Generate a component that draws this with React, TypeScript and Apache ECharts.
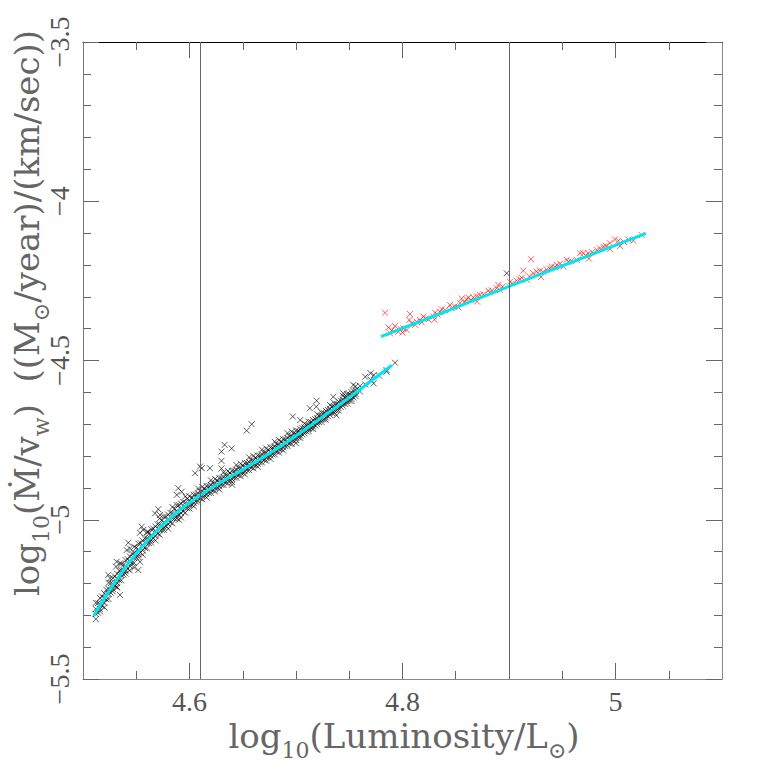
import React, { useEffect, useRef } from "react";
import * as echarts from "echarts";

const xMajorTicks = [4.6, 4.8, 5.0];
const xMinorTicks = [4.55, 4.65, 4.7, 4.75, 4.85, 4.9, 4.95, 5.05];
const yMajorTicks = [-5.5, -5.0, -4.5, -4.0, -3.5];
const yMinorTicks = [-5.4, -5.3, -5.2, -5.1, -4.9, -4.8, -4.7, -4.6, -4.4, -4.3, -4.2, -4.1, -3.9, -3.8, -3.7, -3.6];
const verticalLines = [4.61, 4.9];

const blackPoints: [number, number][] = [
  [4.512, -5.261], [4.512, -5.28], [4.512, -5.296], [4.512, -5.312],
  [4.516, -5.246], [4.516, -5.264], [4.516, -5.28], [4.516, -5.288],
  [4.52, -5.231], [4.52, -5.247], [4.52, -5.261], [4.52, -5.275],
  [4.524, -5.198], [4.524, -5.217], [4.524, -5.233], [4.524, -5.249],
  [4.528, -5.183], [4.528, -5.201], [4.528, -5.217], [4.528, -5.225],
  [4.532, -5.169], [4.532, -5.185], [4.532, -5.199], [4.532, -5.213],
  [4.536, -5.139], [4.536, -5.158], [4.536, -5.174], [4.536, -5.19],
  [4.54, -5.127], [4.54, -5.145], [4.54, -5.161], [4.54, -5.169],
  [4.544, -5.115], [4.544, -5.131], [4.544, -5.145], [4.544, -5.159],
  [4.548, -5.085], [4.548, -5.104], [4.548, -5.12], [4.548, -5.136],
  [4.552, -5.075], [4.552, -5.093], [4.552, -5.109], [4.552, -5.117],
  [4.556, -5.066], [4.556, -5.082], [4.556, -5.096], [4.556, -5.11],
  [4.56, -5.039], [4.56, -5.058], [4.56, -5.074], [4.56, -5.09],
  [4.564, -5.03], [4.564, -5.048], [4.564, -5.064], [4.564, -5.072],
  [4.568, -5.021], [4.568, -5.037], [4.568, -5.051], [4.568, -5.065],
  [4.572, -4.996], [4.572, -5.015], [4.572, -5.031], [4.572, -5.047],
  [4.576, -4.99], [4.576, -5.008], [4.576, -5.024], [4.576, -5.032],
  [4.58, -4.984], [4.58, -5.0], [4.58, -5.014], [4.58, -5.028],
  [4.584, -4.96], [4.584, -4.979], [4.584, -4.995], [4.584, -5.011],
  [4.588, -4.954], [4.588, -4.972], [4.588, -4.988], [4.588, -4.996],
  [4.592, -4.949], [4.592, -4.965], [4.592, -4.979], [4.592, -4.993],
  [4.596, -4.927], [4.596, -4.946], [4.596, -4.962], [4.596, -4.978],
  [4.514, -5.262], [4.514, -5.292], [4.518, -5.241], [4.518, -5.271], [4.522, -5.22], [4.522, -5.25],
  [4.526, -5.199], [4.526, -5.229], [4.53, -5.178], [4.53, -5.208], [4.534, -5.16], [4.534, -5.19],
  [4.538, -5.142], [4.538, -5.172], [4.542, -5.124], [4.542, -5.154], [4.546, -5.106], [4.546, -5.136],
  [4.55, -5.088], [4.55, -5.118], [4.554, -5.073], [4.554, -5.103], [4.558, -5.058], [4.558, -5.088],
  [4.562, -5.043], [4.562, -5.073], [4.566, -5.028], [4.566, -5.058], [4.57, -5.014], [4.57, -5.044],
  [4.574, -5.002], [4.574, -5.032], [4.578, -4.99], [4.578, -5.02], [4.582, -4.978], [4.582, -5.008],
  [4.586, -4.966], [4.586, -4.996], [4.59, -4.954], [4.59, -4.984], [4.594, -4.944], [4.594, -4.974],
  [4.598, -4.934], [4.598, -4.964],
  [4.6, -4.926], [4.6, -4.94], [4.6, -4.954], [4.6, -4.965],
  [4.604, -4.922], [4.604, -4.935], [4.604, -4.948], [4.604, -4.958],
  [4.608, -4.902], [4.608, -4.917], [4.608, -4.931], [4.608, -4.942],
  [4.612, -4.897], [4.612, -4.911], [4.612, -4.925], [4.612, -4.936],
  [4.616, -4.894], [4.616, -4.907], [4.616, -4.92], [4.616, -4.93],
  [4.62, -4.876], [4.62, -4.891], [4.62, -4.905], [4.62, -4.916],
  [4.624, -4.872], [4.624, -4.886], [4.624, -4.9], [4.624, -4.911],
  [4.628, -4.869], [4.628, -4.882], [4.628, -4.895], [4.628, -4.905],
  [4.632, -4.851], [4.632, -4.866], [4.632, -4.88], [4.632, -4.891],
  [4.636, -4.847], [4.636, -4.861], [4.636, -4.875], [4.636, -4.886],
  [4.64, -4.846], [4.64, -4.859], [4.64, -4.872], [4.64, -4.882],
  [4.644, -4.828], [4.644, -4.843], [4.644, -4.857], [4.644, -4.868],
  [4.648, -4.824], [4.648, -4.838], [4.648, -4.852], [4.648, -4.863],
  [4.652, -4.822], [4.652, -4.835], [4.652, -4.848], [4.652, -4.858],
  [4.656, -4.804], [4.656, -4.819], [4.656, -4.833], [4.656, -4.844],
  [4.66, -4.8], [4.66, -4.814], [4.66, -4.828], [4.66, -4.839],
  [4.664, -4.798], [4.664, -4.811], [4.664, -4.824], [4.664, -4.834],
  [4.668, -4.78], [4.668, -4.795], [4.668, -4.809], [4.668, -4.82],
  [4.672, -4.776], [4.672, -4.79], [4.672, -4.804], [4.672, -4.815],
  [4.676, -4.773], [4.676, -4.786], [4.676, -4.799], [4.676, -4.809],
  [4.68, -4.755], [4.68, -4.77], [4.68, -4.784], [4.68, -4.795],
  [4.684, -4.75], [4.684, -4.764], [4.684, -4.778], [4.684, -4.789],
  [4.688, -4.747], [4.688, -4.76], [4.688, -4.773], [4.688, -4.783],
  [4.692, -4.728], [4.692, -4.743], [4.692, -4.757], [4.692, -4.768],
  [4.696, -4.723], [4.696, -4.737], [4.696, -4.751], [4.696, -4.762],
  [4.7, -4.72], [4.7, -4.731], [4.7, -4.742], [4.7, -4.75],
  [4.704, -4.715], [4.704, -4.725], [4.704, -4.736], [4.704, -4.743],
  [4.708, -4.698], [4.708, -4.71], [4.708, -4.722], [4.708, -4.729],
  [4.712, -4.692], [4.712, -4.703], [4.712, -4.714], [4.712, -4.722],
  [4.716, -4.687], [4.716, -4.697], [4.716, -4.708], [4.716, -4.715],
  [4.72, -4.669], [4.72, -4.681], [4.72, -4.693], [4.72, -4.7],
  [4.724, -4.663], [4.724, -4.674], [4.724, -4.685], [4.724, -4.693],
  [4.728, -4.658], [4.728, -4.668], [4.728, -4.679], [4.728, -4.686],
  [4.732, -4.64], [4.732, -4.652], [4.732, -4.664], [4.732, -4.671],
  [4.736, -4.634], [4.736, -4.645], [4.736, -4.656], [4.736, -4.664],
  [4.74, -4.629], [4.74, -4.639], [4.74, -4.65], [4.74, -4.657],
  [4.744, -4.611], [4.744, -4.623], [4.744, -4.635], [4.744, -4.642],
  [4.748, -4.605], [4.748, -4.616], [4.748, -4.627], [4.748, -4.635],
  [4.752, -4.599], [4.752, -4.609], [4.752, -4.62], [4.752, -4.627],
  [4.756, -4.581], [4.756, -4.593], [4.756, -4.605], [4.756, -4.612],
  [4.76, -4.58], [4.76, -4.597],
  [4.602, -4.931], [4.602, -4.953], [4.606, -4.921], [4.606, -4.943], [4.61, -4.911], [4.61, -4.933],
  [4.614, -4.902], [4.614, -4.924], [4.618, -4.894], [4.618, -4.916], [4.622, -4.886], [4.622, -4.908],
  [4.626, -4.877], [4.626, -4.899], [4.63, -4.869], [4.63, -4.891], [4.634, -4.861], [4.634, -4.883],
  [4.638, -4.853], [4.638, -4.875], [4.642, -4.846], [4.642, -4.868], [4.646, -4.838], [4.646, -4.86],
  [4.65, -4.83], [4.65, -4.852], [4.654, -4.822], [4.654, -4.844], [4.658, -4.814], [4.658, -4.836],
  [4.662, -4.806], [4.662, -4.828], [4.666, -4.798], [4.666, -4.82], [4.67, -4.79], [4.67, -4.812],
  [4.674, -4.781], [4.674, -4.803], [4.678, -4.773], [4.678, -4.795], [4.682, -4.764], [4.682, -4.786],
  [4.686, -4.755], [4.686, -4.777], [4.69, -4.747], [4.69, -4.769], [4.694, -4.738], [4.694, -4.76],
  [4.698, -4.729], [4.698, -4.751], [4.702, -4.721], [4.702, -4.741], [4.706, -4.712], [4.706, -4.732],
  [4.71, -4.703], [4.71, -4.723], [4.714, -4.693], [4.714, -4.713], [4.718, -4.684], [4.718, -4.704],
  [4.722, -4.674], [4.722, -4.694], [4.726, -4.665], [4.726, -4.685], [4.73, -4.655], [4.73, -4.675],
  [4.734, -4.645], [4.734, -4.665], [4.738, -4.636], [4.738, -4.656], [4.742, -4.626], [4.742, -4.646],
  [4.746, -4.616], [4.746, -4.636], [4.75, -4.606], [4.75, -4.626], [4.754, -4.596], [4.754, -4.616],
  [4.5238, -5.173], [4.5254, -5.184], [4.5316, -5.132], [4.5347, -5.137], [4.531, -5.147], [4.5425, -5.072],
  [4.5441, -5.09], [4.541, -5.095], [4.5535, -5.041], [4.5551, -5.022], [4.5566, -5.032], [4.5613, -5.038],
  [4.5676, -4.98], [4.5707, -4.967], [4.5723, -4.985], [4.588, -4.922], [4.5895, -4.901], [4.5927, -4.912],
  [4.6052, -4.854], [4.6099, -4.833], [4.6115, -4.838], [4.6192, -4.838], [4.63, -4.786], [4.63, -4.815],
  [4.63, -4.839], [4.633, -4.765], [4.6396, -4.776], [4.6537, -4.72], [4.6584, -4.7], [4.697, -4.676],
  [4.704, -4.687], [4.713, -4.65], [4.719, -4.645], [4.7194, -4.626], [4.735, -4.614], [4.7444, -4.603],
  [4.7538, -4.577], [4.5347, -5.236], [4.5316, -5.21], [4.5519, -5.158], [4.5535, -5.132],
  [4.548, -5.15], [4.59, -5.0], [4.64, -4.89], [4.7, -4.76], [4.738, -4.672],
  [4.765, -4.551], [4.765, -4.575], [4.77, -4.56], [4.77, -4.54], [4.773, -4.546], [4.773, -4.572],
  [4.778, -4.548], [4.785, -4.535], [4.785, -4.53], [4.793, -4.507], [4.8978, -4.226]
];

const redPoints: [number, number][] = [
  [4.7836, -4.35], [4.7867, -4.396], [4.793, -4.392], [4.7883, -4.415], [4.7961, -4.41], [4.8008, -4.399],
  [4.8039, -4.404], [4.807, -4.354], [4.8064, -4.373], [4.8086, -4.383], [4.8133, -4.378], [4.8164, -4.373],
  [4.8196, -4.362], [4.8242, -4.371], [4.8289, -4.362], [4.8305, -4.35], [4.8352, -4.347], [4.8368, -4.339],
  [4.8446, -4.326], [4.8462, -4.336], [4.8524, -4.333], [4.854, -4.32], [4.8556, -4.305], [4.8603, -4.308],
  [4.8618, -4.302], [4.8665, -4.302], [4.8697, -4.298], [4.8728, -4.294], [4.8806, -4.281], [4.8822, -4.287],
  [4.8884, -4.273], [4.89, -4.263], [4.8915, -4.279], [4.9009, -4.253], [4.9072, -4.249], [4.9103, -4.245],
  [4.9134, -4.218], [4.9166, -4.247], [4.9207, -4.182], [4.9228, -4.226], [4.926, -4.221], [4.9291, -4.218],
  [4.9354, -4.214], [4.9385, -4.211], [4.9401, -4.205], [4.9448, -4.2], [4.951, -4.205], [4.9542, -4.184],
  [4.9557, -4.19], [4.9636, -4.184], [4.9667, -4.163], [4.9698, -4.163], [4.9745, -4.163], [4.9823, -4.153],
  [4.9854, -4.148], [4.9886, -4.143], [4.9948, -4.132], [4.9995, -4.12], [5.0027, -4.124], [5.0042, -4.141],
  [5.012, -4.12], [5.0167, -4.124], [5.0246, -4.106],
  [4.79, -4.405], [4.798, -4.4], [4.812, -4.388], [4.818, -4.38], [4.822, -4.368], [4.833, -4.356],
  [4.84, -4.342], [4.849, -4.33], [4.858, -4.318], [4.864, -4.311], [4.876, -4.292], [4.884, -4.28],
  [4.894, -4.268], [4.903, -4.258], [4.912, -4.24], [4.919, -4.236], [4.932, -4.222], [4.943, -4.207],
  [4.948, -4.196], [4.958, -4.188], [4.972, -4.17], [4.978, -4.16], [4.991, -4.14], [5.008, -4.128],
  [4.8, -4.412], [4.83, -4.372], [4.87, -4.315], [4.93, -4.238], [4.975, -4.18], [4.995, -4.15]
];

const fitLow: [number, number][] = [
  [4.51, -5.302], [4.53, -5.196], [4.55, -5.106], [4.57, -5.032], [4.59, -4.972], [4.61, -4.923],
  [4.63, -4.881], [4.65, -4.842], [4.67, -4.802], [4.69, -4.759], [4.71, -4.713], [4.73, -4.665],
  [4.75, -4.616], [4.77, -4.566], [4.79, -4.515]
];

const fitHigh: [number, number][] = [
  [4.7798, -4.4253], [4.84, -4.347], [4.8994, -4.2683], [4.96, -4.19], [5.0286, -4.1007]
];

const FONT = "'Liberation Serif', 'DejaVu Serif', serif";
const TITLE_FONT = "'DejaVu Serif', serif";
const TICK_COLOR = "#666";
const LABEL_COLOR = "#555";
const CROSS = "path://M0,0L10,10M10,0L0,10";

const fmt = (v: number) => String(v).replace("-", "\u2212");

const titleRich = {
  n: { fontFamily: TITLE_FONT, fontSize: 34, lineHeight: 34, fill: "#666", verticalAlign: "bottom", padding: [0, 0, 8, 0] },
  s: { fontFamily: TITLE_FONT, fontSize: 22, lineHeight: 22, fill: "#666", verticalAlign: "bottom" },
};

export default function App() {
  const ref = useRef<HTMLDivElement>(null);
  useEffect(() => {
    if (!ref.current) return;
    const chart = echarts.init(ref.current, undefined, { renderer: "svg" });
    const xBase = { type: "value", min: 4.5, max: 5.1, splitLine: { show: false } };
    const yBase = { type: "value", min: -5.5, max: -3.5, splitLine: { show: false } };
    const option: any = {
      animation: false,
      backgroundColor: "#fff",
      grid: { left: 83, right: 39, top: 42, bottom: 82 },
      xAxis: [
        {
          ...xBase, position: "bottom",
          axisLine: { show: true, lineStyle: { color: "#888", width: 1 } },
          axisTick: { show: true, inside: true, length: 8, customValues: xMinorTicks, lineStyle: { color: TICK_COLOR } },
          axisLabel: { show: false },
        },
        {
          ...xBase, position: "bottom",
          axisLine: { show: false },
          axisTick: { show: true, inside: true, length: 16, customValues: xMajorTicks, lineStyle: { color: TICK_COLOR } },
          axisLabel: {
            show: true, customValues: xMajorTicks, formatter: fmt, margin: 8, lineHeight: 28,
            fontFamily: FONT, fontSize: 28, color: LABEL_COLOR,
          },
        },
        {
          ...xBase, position: "top",
          axisLine: { show: true, lineStyle: { color: "#000", width: 1 } },
          axisTick: { show: true, inside: true, length: 8, customValues: xMinorTicks, lineStyle: { color: TICK_COLOR } },
          axisLabel: { show: false },
        },
        {
          ...xBase, position: "top",
          axisLine: { show: false },
          axisTick: { show: true, inside: true, length: 16, customValues: xMajorTicks, lineStyle: { color: TICK_COLOR } },
          axisLabel: { show: false },
        },
      ],
      yAxis: [
        {
          ...yBase, position: "left",
          axisLine: { show: true, lineStyle: { color: "#777", width: 1 } },
          axisTick: { show: true, inside: true, length: 8, customValues: yMinorTicks, lineStyle: { color: TICK_COLOR } },
          axisLabel: { show: false },
        },
        {
          ...yBase, position: "left",
          axisLine: { show: false },
          axisTick: { show: true, inside: true, length: 16, customValues: yMajorTicks, lineStyle: { color: TICK_COLOR } },
          axisLabel: {
            show: true, customValues: yMajorTicks, formatter: fmt, rotate: 90, margin: 10,
            fontFamily: FONT, fontSize: 28, color: LABEL_COLOR,
          },
        },
        {
          ...yBase, position: "right",
          axisLine: { show: true, lineStyle: { color: "#888", width: 1 } },
          axisTick: { show: true, inside: true, length: 8, customValues: yMinorTicks, lineStyle: { color: TICK_COLOR } },
          axisLabel: { show: false },
        },
        {
          ...yBase, position: "right",
          axisLine: { show: false },
          axisTick: { show: true, inside: true, length: 16, customValues: yMajorTicks, lineStyle: { color: TICK_COLOR } },
          axisLabel: { show: false },
        },
      ],
      graphic: [
        {
          type: "text", x: 404, y: 744, z: 0,
          style: {
            text: "{n|log}{s|10}{n|(Luminosity/L}{s|\u2299}{n|)}",
            align: "center", verticalAlign: "middle",
            rich: titleRich,
          },
        },
        {
          type: "text", x: 35, y: 313, rotation: Math.PI / 2,
          style: {
            text: "{n|log}{s|10}{n|(\u1E40/v}{s|w}{n|)  ((M}{s|\u2299}{n|/year)/(km/sec))}",
            align: "center", verticalAlign: "middle",
            rich: titleRich,
          },
        },
      ],
      series: [
        {
          type: "scatter", xAxisIndex: 0, yAxisIndex: 0, data: blackPoints,
          symbol: CROSS, symbolSize: 6,
          itemStyle: { color: "none", borderColor: "#000", borderWidth: 0.8 },
          markLine: {
            silent: true, symbol: ["none", "none"], label: { show: false },
            lineStyle: { color: "#666", width: 1, type: "solid" },
            data: verticalLines.map((v) => ({ xAxis: v })),
          },
        },
        {
          type: "scatter", xAxisIndex: 0, yAxisIndex: 0, data: redPoints,
          symbol: CROSS, symbolSize: 6,
          itemStyle: { color: "none", borderColor: "#ff0000", borderWidth: 0.8 },
        },
        {
          type: "line", xAxisIndex: 0, yAxisIndex: 0, data: fitLow, smooth: true, symbol: "none",
          lineStyle: { color: "#00e6f0", width: 3 },
        },
        {
          type: "line", xAxisIndex: 0, yAxisIndex: 0, data: fitHigh, smooth: true, symbol: "none",
          lineStyle: { color: "#00e6f0", width: 3 },
        },
      ],
    };
    chart.setOption(option);
    return () => chart.dispose();
  }, []);
  return <div ref={ref} style={{ position: "fixed", left: 0, top: 0, width: 761, height: 761 }} />;
}
